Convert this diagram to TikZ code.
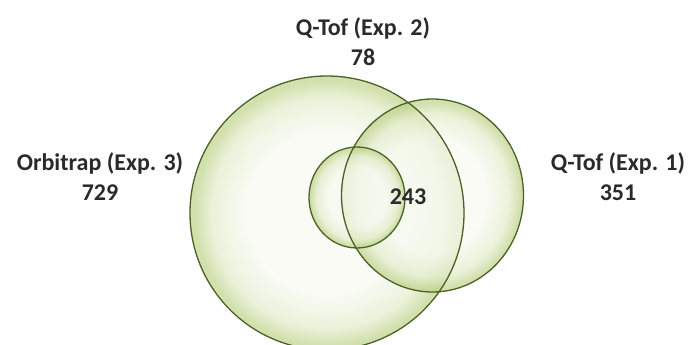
\documentclass[tikz,border=0pt]{standalone}
\usepackage{fontspec}
\setmainfont{Carlito}
\usepackage{tikz}
\usetikzlibrary{positioning,calc}
\definecolor{bubin}{HTML}{F6F9EF}
\definecolor{bubmid}{HTML}{E3ECCB}
\definecolor{bubrim}{HTML}{BFD38A}
\definecolor{oliveline}{HTML}{4A6226}
\definecolor{labelgray}{HTML}{2A2A2A}
\pgfdeclareradialshading{bubble}{\pgfpoint{0bp}{0bp}}{%
  color(0bp)=(bubin); color(15bp)=(bubin); color(21bp)=(bubmid);
  color(24.2bp)=(bubrim); color(25bp)=(bubrim); color(50bp)=(bubrim)}

\begin{document}
\begin{tikzpicture}[
  x=1pt,y=-1pt,
  every node/.style={font=\bfseries\fontsize{24}{30}\selectfont,align=center,text=labelgray},
  bubblefill/.style={shading=bubble,fill opacity=0.7},
  bubbleline/.style={draw=oliveline,line width=1.3pt}
]
\useasboundingbox (0,0) rectangle (689,345);
\clip (0,0) rectangle (689,345);
% set centres
\coordinate (orbc) at (327,213);
\coordinate (tofac) at (432.5,195.5);
\coordinate (tofbc) at (357,197.5);
% bubbles
\shade[bubblefill] (orbc) ellipse [x radius=137,y radius=137];
\shade[bubblefill] (tofac) ellipse [x radius=91,y radius=96.5];
\shade[bubblefill] (tofbc) ellipse [x radius=48,y radius=50.5];
\draw[bubbleline] (orbc) ellipse [x radius=137,y radius=137];
\draw[bubbleline] (tofac) ellipse [x radius=91,y radius=96.5];
\draw[bubbleline] (tofbc) ellipse [x radius=48,y radius=50.5];
% labels
\node (orbitrap) at (100,177) {Orbitrap (Exp. 3)\\729};
\node (qtofB) at (363,42) {Q-Tof (Exp. 2)\\78};
\node (qtofA) at (618,177) {Q-Tof (Exp. 1)\\351};
\node (core) at (408,197) {243};
\end{tikzpicture}
\end{document}
